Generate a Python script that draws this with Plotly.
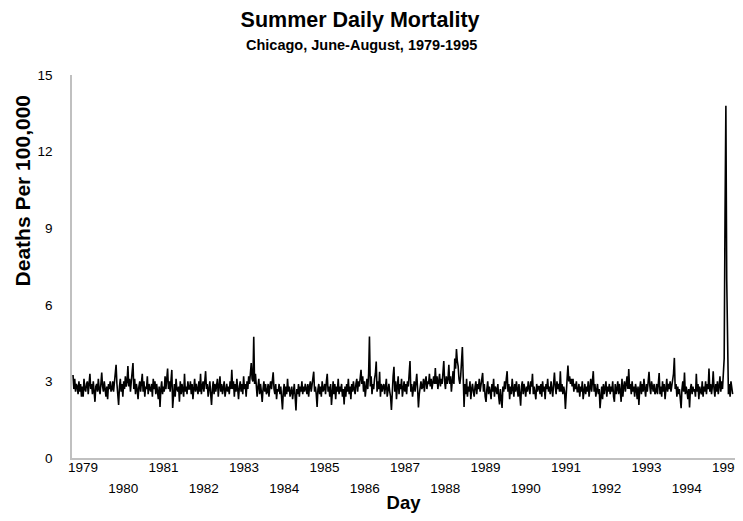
import plotly.graph_objects as go

# Years shown on the x axis
years = list(range(1979, 1996))

# Deaths per 100,000, sampled every 2nd day of each summer (June-August)
d1979 = [3.25, 2.7, 3.1, 2.6, 2.9, 2.8, 2.5, 3.0, 2.6, 2.9, 2.4, 2.8, 2.4, 3.1, 2.7, 2.6, 2.9, 3.0, 2.5, 2.8, 3.3, 2.7, 2.9, 2.5, 3.0, 2.6, 2.2, 2.8, 2.9, 2.6, 3.1, 2.7, 2.5, 2.9, 3.35, 2.8, 2.6, 3.0, 2.7, 2.4, 2.8, 2.3, 2.9, 2.7, 3.0, 2.6]
d1980 = [2.7, 3.0, 2.6, 2.9, 3.2, 3.65, 2.9, 2.5, 2.08, 2.8, 3.1, 2.6, 2.9, 2.4, 3.0, 2.7, 3.2, 2.8, 3.0, 3.6, 2.8, 3.1, 2.6, 3.0, 3.3, 3.72, 2.7, 3.1, 2.5, 2.9, 2.7, 2.3, 2.8, 3.0, 2.6, 3.1, 3.3, 2.6, 3.0, 2.4, 2.8, 2.7, 3.2, 2.5, 2.9, 2.7]
d1981 = [2.6, 2.9, 2.4, 3.1, 2.7, 3.0, 2.5, 2.9, 2.6, 2.3, 2.8, 2.0, 2.7, 3.0, 2.5, 2.8, 2.6, 3.2, 2.7, 3.0, 3.5, 2.7, 3.0, 2.6, 2.9, 3.45, 1.96, 2.6, 2.9, 2.4, 3.1, 2.7, 2.6, 2.8, 2.2, 3.0, 2.5, 2.9, 2.7, 2.4, 3.3, 2.6, 2.8, 2.5, 3.0, 2.7]
d1982 = [2.7, 3.0, 2.5, 2.9, 2.3, 2.8, 3.1, 2.6, 2.9, 2.7, 2.5, 3.0, 2.6, 3.3, 2.5, 2.8, 3.0, 2.6, 2.9, 3.4, 2.7, 2.9, 2.4, 2.8, 3.0, 2.5, 2.08, 2.7, 3.0, 2.5, 2.9, 2.6, 2.8, 3.1, 2.4, 2.8, 3.2, 2.6, 2.9, 2.5, 2.8, 3.0, 2.4, 2.7, 2.9, 2.6]
d1983 = [2.8, 2.5, 3.0, 2.7, 3.45, 2.7, 3.0, 2.4, 2.9, 2.6, 3.1, 2.7, 2.3, 2.8, 3.0, 2.6, 2.9, 2.5, 3.2, 2.7, 2.9, 2.4, 3.0, 2.7, 3.2, 2.9, 3.4, 3.72, 3.1, 3.0, 4.75, 2.9, 3.3, 2.7, 2.4, 2.8, 3.1, 2.5, 2.9, 2.6, 2.2, 2.7, 3.0, 2.6, 2.9, 2.5]
d1984 = [2.6, 2.9, 2.4, 2.8, 3.0, 2.7, 3.1, 3.36, 2.7, 2.5, 2.9, 2.3, 2.7, 2.6, 2.9, 2.5, 2.8, 2.4, 1.9, 2.6, 2.9, 2.4, 2.8, 2.5, 3.1, 2.6, 2.8, 2.4, 2.7, 2.8, 2.3, 2.6, 2.9, 2.4, 1.86, 2.7, 2.5, 2.9, 2.4, 2.8, 2.6, 3.0, 2.5, 2.8, 2.6, 2.9]
d1985 = [2.7, 2.5, 2.9, 2.4, 2.8, 3.0, 2.6, 2.9, 3.1, 3.38, 2.6, 2.8, 2.5, 2.0, 2.7, 2.9, 2.5, 2.8, 2.4, 3.0, 2.6, 2.7, 2.9, 2.5, 3.0, 3.3, 2.6, 2.8, 2.4, 2.9, 2.08, 2.7, 3.0, 2.5, 2.9, 2.3, 2.8, 2.6, 3.1, 2.5, 2.8, 2.6, 2.9, 2.4, 2.7, 2.1]
d1986 = [2.8, 2.4, 2.9, 2.6, 3.1, 2.5, 2.8, 2.3, 2.9, 2.6, 3.0, 2.7, 2.5, 2.9, 3.1, 2.6, 3.0, 2.8, 3.2, 3.45, 2.9, 3.2, 2.6, 3.0, 2.4, 2.9, 3.1, 2.7, 3.3, 4.76, 2.8, 3.2, 2.5, 2.9, 2.7, 3.1, 3.3, 3.78, 2.6, 3.0, 2.7, 3.38, 2.4, 2.9, 2.6, 2.8]
d1987 = [2.9, 2.5, 2.8, 3.1, 2.4, 2.7, 2.9, 2.6, 2.4, 1.88, 2.9, 3.2, 3.57, 2.6, 3.0, 2.3, 2.8, 3.2, 2.5, 2.9, 2.7, 3.1, 2.4, 2.8, 3.0, 2.6, 2.9, 2.5, 3.0, 2.8, 3.2, 3.8, 2.6, 2.9, 2.4, 2.8, 3.0, 2.6, 2.9, 3.3, 2.7, 1.98, 2.5, 2.8, 3.0, 2.7]
d1988 = [2.8, 3.1, 2.6, 3.0, 3.2, 2.7, 3.0, 2.9, 3.3, 2.8, 3.1, 2.7, 3.0, 3.2, 2.9, 3.52, 2.9, 3.2, 2.7, 3.0, 3.3, 2.8, 3.1, 2.9, 3.3, 3.8, 3.0, 2.7, 3.2, 2.9, 3.1, 3.65, 2.9, 3.2, 2.6, 3.0, 3.4, 2.9, 3.9, 3.5, 4.27, 3.8, 3.6, 3.1, 2.9, 3.2]
d1989 = [3.6, 4.35, 3.2, 2.0, 2.9, 2.5, 3.1, 2.4, 2.8, 2.6, 3.0, 2.3, 2.7, 2.9, 2.6, 2.4, 2.8, 3.0, 2.5, 2.9, 2.7, 3.1, 2.6, 2.9, 3.0, 3.33, 2.6, 2.9, 2.4, 2.2, 2.7, 3.0, 2.5, 2.8, 2.6, 2.3, 2.9, 2.6, 3.1, 2.4, 2.8, 2.7, 2.5, 2.9, 2.4, 2.1]
d1990 = [2.7, 2.4, 1.96, 2.8, 2.6, 3.0, 2.7, 3.1, 3.4, 2.6, 2.9, 2.3, 2.8, 2.5, 3.1, 2.7, 2.4, 2.9, 2.6, 3.0, 2.7, 2.4, 2.9, 2.6, 2.05, 2.8, 3.0, 2.5, 2.9, 2.7, 2.4, 2.8, 2.6, 3.0, 2.7, 2.5, 3.0, 2.8, 3.3, 2.5, 2.8, 2.6, 2.3, 2.9, 2.6, 2.8]
d1991 = [2.8, 2.5, 2.9, 2.4, 3.0, 2.6, 2.8, 2.3, 2.9, 2.7, 3.1, 2.6, 2.8, 2.5, 3.0, 2.7, 2.4, 2.9, 3.35, 2.8, 2.5, 3.0, 2.7, 2.9, 2.6, 3.4, 2.6, 2.9, 2.5, 2.8, 2.6, 1.92, 2.8, 3.1, 3.62, 3.0, 3.2, 2.9, 3.1, 2.8, 3.1, 2.6, 2.9, 2.7, 3.0, 2.6]
d1992 = [2.6, 2.9, 2.4, 2.8, 2.6, 3.0, 2.3, 2.7, 2.9, 2.5, 2.8, 2.6, 3.0, 2.4, 2.8, 3.1, 2.6, 2.9, 3.4, 2.6, 2.9, 2.4, 2.7, 2.9, 2.5, 2.7, 1.95, 2.6, 2.8, 2.3, 2.9, 2.5, 2.7, 3.0, 2.4, 2.8, 2.6, 2.9, 2.5, 2.8, 2.6, 3.0, 2.4, 2.2, 2.9, 2.5]
d1993 = [2.7, 3.0, 2.5, 2.9, 2.6, 2.2, 3.1, 2.4, 2.8, 3.0, 2.6, 2.9, 3.2, 2.7, 3.48, 2.7, 2.9, 2.5, 3.0, 2.6, 2.8, 2.4, 2.9, 2.7, 2.3, 2.8, 2.08, 2.7, 3.0, 2.5, 2.9, 2.6, 3.1, 2.7, 2.4, 2.9, 2.6, 3.0, 3.38, 2.8, 2.5, 3.0, 2.7, 2.6, 2.9, 2.5]
d1994 = [2.6, 2.9, 2.5, 2.8, 3.33, 2.5, 2.8, 2.4, 3.0, 2.6, 2.9, 2.3, 2.8, 3.1, 2.6, 2.9, 2.7, 3.0, 2.6, 2.8, 3.1, 3.3, 3.92, 2.7, 2.9, 2.4, 2.8, 2.5, 2.7, 2.3, 1.95, 2.7, 3.0, 2.6, 3.35, 2.5, 2.8, 2.6, 2.3, 2.7, 1.98, 2.7, 2.9, 2.5, 2.8, 2.6]
d1995 = [2.7, 2.4, 3.3, 2.6, 2.9, 2.3, 2.8, 2.6, 2.5, 3.0, 2.4, 2.8, 2.6, 3.0, 2.5, 2.9, 2.7, 3.5, 2.6, 2.9, 2.5, 2.8, 3.4, 2.7, 2.4, 2.9, 2.6, 3.0, 2.5, 2.8, 3.2, 2.6, 3.0, 2.7, 3.3, 3.9, 9.5, 13.8, 7.0, 3.1, 2.5, 2.9, 2.4, 3.0, 2.6, 2.5]

seasons = [d1979, d1980, d1981, d1982, d1983, d1984, d1985, d1986, d1987,
           d1988, d1989, d1990, d1991, d1992, d1993, d1994, d1995]

DAYS_PER_SEASON = 92
STEP = 2

x, y = [], []
for s, vals in enumerate(seasons):
    for j, v in enumerate(vals):
        x.append(s * DAYS_PER_SEASON + j * STEP)
        y.append(v)

# axis range and tick placement (layout)
x_min = -2.4
x_max = 1567.6
tick0 = 23.7
dtick = 95.3
even_vals = [tick0 + k * dtick for k in range(0, len(years), 2)]
even_text = [str(years[k]) for k in range(0, len(years), 2)]
odd_vals = [tick0 + k * dtick for k in range(1, len(years), 2)]
odd_text = [str(years[k]) for k in range(1, len(years), 2)]

FONT = "Liberation Sans, Arial, sans-serif"
AXIS_GRAY = "#c0c0c0"

# the page adds an 8px body margin on every side, so the figure is kept
# 16px smaller than the window to avoid scrollbars
fig = go.Figure()
fig.add_trace(go.Scatter(
    x=x, y=y, mode="lines",
    line=dict(color="black", width=1.6),
    hoverinfo="skip", showlegend=False,
))
# empty trace so the second (lower-row) x axis is drawn
fig.add_trace(go.Scatter(x=[], y=[], xaxis="x2", yaxis="y",
                         showlegend=False, hoverinfo="skip"))

fig.update_layout(
    width=735, height=505,
    margin=dict(l=64, r=8, t=67, b=55, autoexpand=False),
    paper_bgcolor="white", plot_bgcolor="white",
    font=dict(family=FONT, color="black"),
    title=dict(
        text="<b>Summer Daily Mortality</b>",
        font=dict(size=21.5, family=FONT, color="black"),
        x=0.479, xanchor="center", xref="container",
        y=1 - 11 / 505, yanchor="middle", yref="container",
    ),
    annotations=[
        dict(text="<b>Chicago, June-August, 1979-1995</b>",
             xref="paper", yref="paper", x=0.436, y=1.0, yshift=30,
             xanchor="center", yanchor="middle", showarrow=False,
             font=dict(size=14.5, family=FONT, color="black")),
        dict(text="<b>Deaths Per 100,000</b>", textangle=-90,
             xref="paper", yref="paper", x=0, xshift=-50, y=0.696,
             xanchor="center", yanchor="middle", showarrow=False,
             font=dict(size=21, family=FONT, color="black")),
    ],
    xaxis=dict(
        range=[x_min, x_max], automargin=False,
        tickmode="array", tickvals=even_vals, ticktext=even_text,
        tickfont=dict(size=13.5, family=FONT, color="black"),
        showline=True, linecolor=AXIS_GRAY, linewidth=1.5,
        showgrid=False, zeroline=False, ticks="",
        ticklabelstandoff=-4, ticklabeloverflow="allow",
    ),
    xaxis2=dict(
        range=[x_min, x_max], automargin=False,
        overlaying="x", side="bottom", anchor="y",
        tickmode="array", tickvals=odd_vals, ticktext=odd_text,
        tickfont=dict(size=13.5, family=FONT, color="black"),
        showline=False, showgrid=False, zeroline=False, ticks="",
        ticklabelstandoff=20, ticklabeloverflow="allow",
        title=dict(text="<b>Day</b>", font=dict(size=18.5, family=FONT, color="black"), standoff=3),
    ),
    yaxis=dict(
        range=[0, 15], automargin=False,
        tickmode="array", tickvals=[0, 3, 6, 9, 12, 15],
        tickfont=dict(size=13.5, family=FONT, color="black"),
        showline=True, linecolor=AXIS_GRAY, linewidth=1.5,
        showgrid=False, zeroline=False, ticks="",
        ticklabelstandoff=15,
    ),
)

fig.write_html("out.html")
